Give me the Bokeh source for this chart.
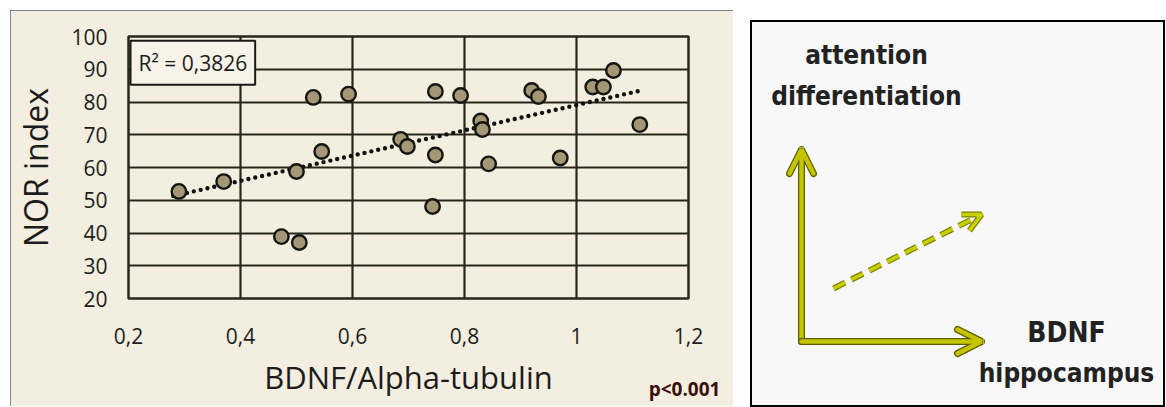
from bokeh.plotting import figure
from bokeh.layouts import row
from bokeh.models import Label, Arrow, OpenHead, FixedTicker, CustomJSTickFormatter, ColumnDataSource
from bokeh.core.properties import value
from bokeh.embed import file_html
from bokeh.resources import INLINE

# ---------------- data ----------------
bdnf = [0.29, 0.37, 0.50, 0.545, 0.53, 0.593, 0.473, 0.505, 0.748, 0.793,
        0.92, 0.932, 1.029, 1.048, 1.066, 1.113, 0.829, 0.832, 0.686, 0.698,
        0.748, 0.843, 0.971, 0.743]
nor = [52.7, 55.7, 58.8, 64.9, 81.4, 82.4, 38.9, 37.1, 83.2, 82.0,
       83.5, 81.7, 84.6, 84.6, 89.6, 73.1, 74.2, 71.6, 68.6, 66.4,
       63.8, 61.1, 62.9, 48.1]
trend_x = [0.28, 1.11]
trend_y = [51.3, 83.3]
x_ticks = [0.2, 0.4, 0.6, 0.8, 1.0, 1.2]
x_tick_labels = ["0,2", "0,4", "0,6", "0,8", "1", "1,2"]
y_ticks = [20, 30, 40, 50, 60, 70, 80, 90, 100]
r2_text = "R\u00b2 = 0,3826"
p_text = "p<0.001"

# schematic (right panel)
axis_origin = (51, 66)
axis_y_end = (51, 258)
axis_x_end = (231, 66)
trend_arrow_start = (83, 119)
trend_arrow_end = (231, 193)
y_caption = ["attention", "differentiation"]
x_caption = ["BDNF", "hippocampus"]

BEIGE = "#f4eee0"
GRID = "#27271c"
FONT = "Open Sans"
TXT = "#1c1c1c"

# ---------------- left panel ----------------
p = figure(frame_width=560, frame_height=262, x_range=(0.2, 1.2), y_range=(20, 100),
           min_border_left=118, min_border_right=45, min_border_top=22, min_border_bottom=108,
           output_backend="svg", toolbar_location=None, tools="", frame_align=False)
p.margin = (10, 0, 0, 10)
p.styles = {"outline": "2px solid #4b6670", "outline-offset": "-2px"}
p.background_fill_color = BEIGE
p.border_fill_color = BEIGE
p.outline_line_color = GRID
p.outline_line_width = 2.5

p.xaxis.ticker = FixedTicker(ticks=x_ticks)
p.yaxis.ticker = FixedTicker(ticks=y_ticks)
p.xaxis.formatter = CustomJSTickFormatter(args=dict(t=x_ticks, l=x_tick_labels), code="""
    for (let i = 0; i < t.length; i++) { if (Math.abs(t[i] - tick) < 1e-6) return l[i]; }
    return '';
""")
for ax in (p.xaxis, p.yaxis):
    ax.axis_line_color = None
    ax.major_tick_line_color = None
    ax.minor_tick_line_color = None
    ax.major_label_text_font = FONT
    ax.major_label_text_font_size = "21px"
    ax.major_label_text_color = TXT
    ax.axis_label_text_font = FONT
    ax.axis_label_text_font_style = "normal"
    ax.axis_label_text_color = TXT
p.xaxis.axis_label = "BDNF/Alpha-tubulin"
p.yaxis.axis_label = "NOR index"
p.xaxis.axis_label_text_font_size = "31px"
p.yaxis.axis_label_text_font_size = "32px"
p.xaxis.major_label_standoff = 23
p.yaxis.major_label_standoff = 15
p.xaxis.axis_label_standoff = 9
p.yaxis.axis_label_standoff = 11

p.xgrid.grid_line_color = GRID
p.ygrid.grid_line_color = GRID
p.xgrid.grid_line_width = 2.2
p.ygrid.grid_line_width = 2.2

src = ColumnDataSource(dict(x=bdnf, y=nor))
p.line(trend_x, trend_y, line_color="#111111", line_width=4.4, line_dash="0 7", line_cap="round")
p.scatter("x", "y", source=src, size=14.5, fill_color="#a39775", line_color="#151510", line_width=2.4)

r2 = Label(x=0.2036, y=85.3, text=r2_text, text_font=FONT, text_font_size="21px",
           text_color=TXT, text_align="left", text_baseline="bottom",
           background_fill_color="#f7f3e8", border_line_color="#1a1a14", border_line_width=2,
           padding=8)
p.add_layout(r2)
pl = Label(x=1.257, y=-11.5, text=p_text, text_font=FONT, text_font_size="19px",
           text_font_style="bold", text_color="#3a0e0e", text_align="right", text_baseline="bottom")
p.add_layout(pl, "above")

# ---------------- right panel ----------------
q = figure(width=415, height=387, x_range=(0, 415), y_range=(0, 387),
           min_border=0, output_backend="svg", toolbar_location=None, tools="", frame_align=False)
q.margin = (20, 0, 0, 17)
q.background_fill_color = "#f8f8f8"
q.border_fill_color = "#f8f8f8"
q.outline_line_color = "black"
q.outline_line_width = 3
q.axis.visible = False
q.grid.visible = False

DARK = "#5e5e00"
YEL = "#c4c400"
for (s, e) in ((axis_origin, axis_y_end), (axis_origin, axis_x_end)):
    q.add_layout(Arrow(x_start=s[0], y_start=s[1], x_end=e[0], y_end=e[1],
                       line_color=DARK, line_width=7, line_cap="round",
                       end=OpenHead(size=24, line_color=DARK, line_width=7, line_cap="round")))
    q.add_layout(Arrow(x_start=s[0], y_start=s[1], x_end=e[0], y_end=e[1],
                       line_color=YEL, line_width=4.5, line_cap="round",
                       end=OpenHead(size=24, line_color=YEL, line_width=4.5, line_cap="round")))
s, e = trend_arrow_start, trend_arrow_end
q.add_layout(Arrow(x_start=s[0], y_start=s[1], x_end=e[0], y_end=e[1],
                   line_color="#7d8200", line_width=6, line_dash="13 7",
                   end=OpenHead(size=18, line_color="#7d8200", line_width=6)))
q.add_layout(Arrow(x_start=s[0], y_start=s[1], x_end=e[0], y_end=e[1],
                   line_color="#c8d000", line_width=3.5, line_dash="13 7",
                   end=OpenHead(size=18, line_color="#c8d000", line_width=3.5)))

NARROW = "DejaVu Sans Condensed"
for txt, yy, fs in zip(y_caption, (353, 312), ("26px", "26px")):
    q.add_layout(Label(x=116, y=yy, text=txt, text_font=NARROW, text_font_size=fs,
                       text_font_style="bold", text_color="#222222",
                       text_align="center", text_baseline="middle"))
for txt, yy, fs in zip(x_caption, (75, 35), ("28px", "26px")):
    q.add_layout(Label(x=316, y=yy, text=txt, text_font=NARROW, text_font_size=fs,
                       text_font_style="bold", text_color="#222222",
                       text_align="center", text_baseline="middle"))

layout = row(p, q)
open("out.html", "w").write(file_html(layout, INLINE))
